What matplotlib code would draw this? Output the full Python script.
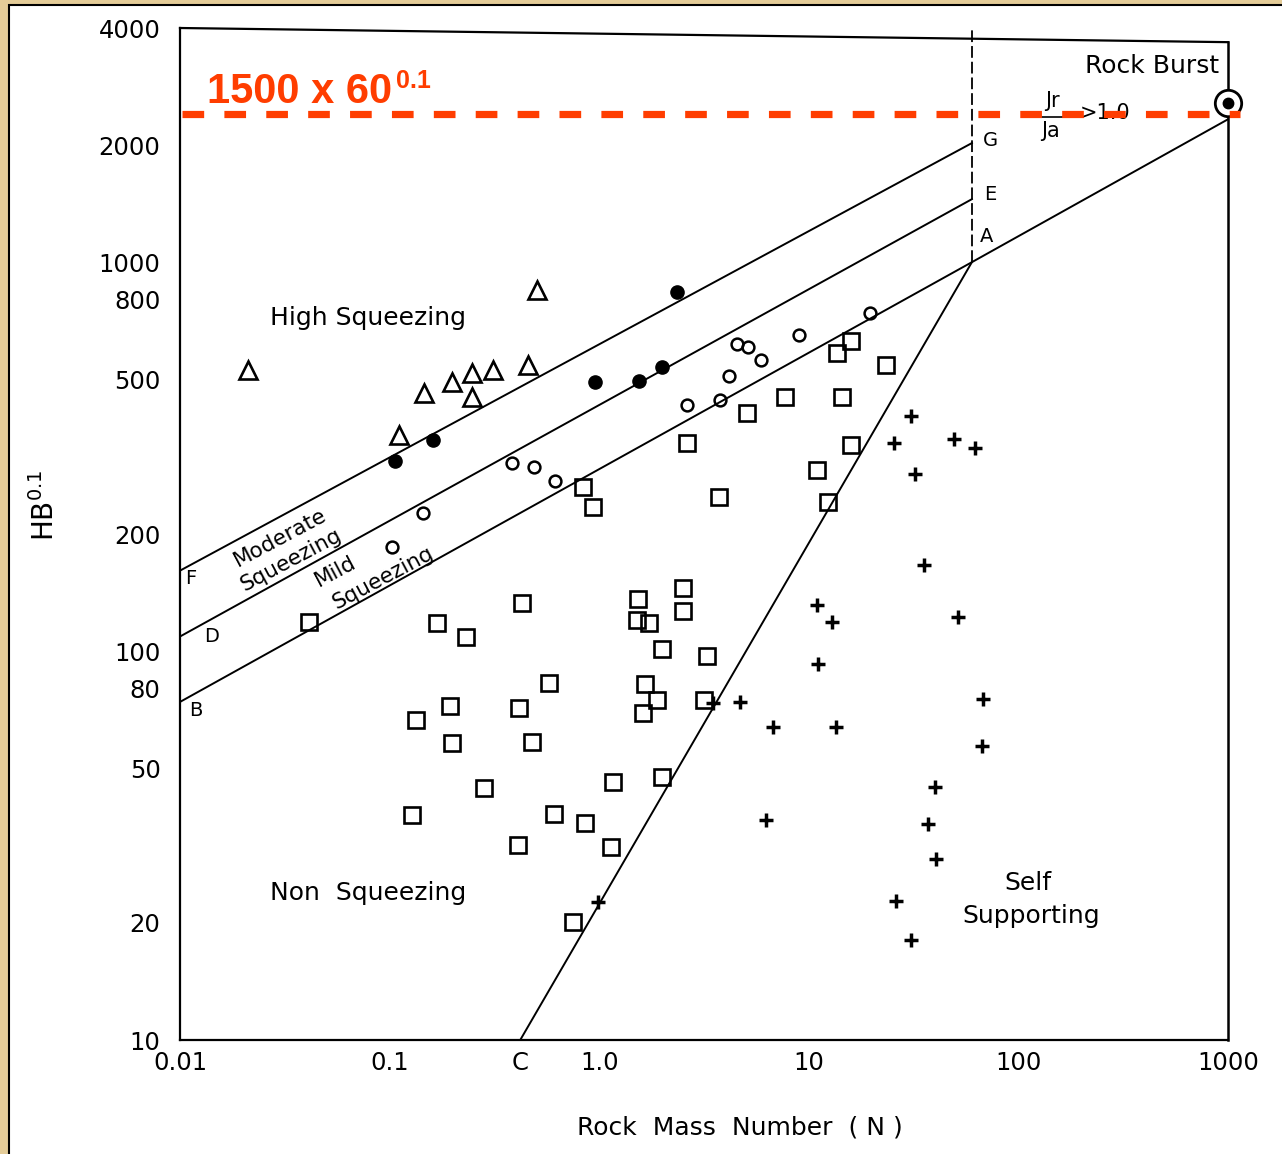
import matplotlib
matplotlib.use("Agg")
import matplotlib.pyplot as plt
from matplotlib.patches import Rectangle
from matplotlib.lines import Line2D
from matplotlib.ticker import NullFormatter

# ---- data ----
tri_x = [0.0211, 0.505, 0.146, 0.199, 0.247, 0.311, 0.247, 0.457, 0.111]
tri_y = [528, 848, 461, 492, 519, 528, 450, 544, 359]

dot_x = [0.106, 0.161, 0.955, 1.55, 2.0, 2.35]
dot_y = [308, 349, 492, 495, 538, 838]

circ_x = [0.144, 0.103, 0.384, 0.489, 0.615, 2.62, 3.77, 4.16, 4.54, 5.13, 5.91, 8.98, 19.6]
circ_y = [226, 185, 305, 297, 274, 429, 442, 510, 616, 605, 561, 650, 740]

sq_x = [0.0412, 0.168, 0.232, 0.429, 0.577, 0.194, 0.414, 0.134, 0.199, 0.478,
        0.282, 0.128, 0.608, 0.410, 0.750, 2.51, 1.53, 2.51, 1.51, 1.73,
        2.0, 3.27, 1.65, 1.89, 1.62, 3.16, 2.0, 1.16, 0.855, 1.14,
        0.838, 0.933, 2.62, 3.73, 5.07, 7.69, 13.6, 15.9, 14.4, 23.3,
        10.9, 15.9, 12.4]
sq_y = [119, 118, 109, 133, 82.8, 72.3, 71.4, 66.5, 58.0, 58.4,
        44.5, 37.9, 38.1, 31.7, 20.1, 145, 136, 127, 120, 118,
        101, 97, 82.3, 74.8, 69.3, 74.8, 47.5, 46.1, 36.1, 31.4,
        264, 235, 343, 249, 410, 450, 584, 627, 450, 544,
        292, 339, 242]

plus_x = [30.7, 25.5, 49.3, 62.1, 32.1, 35.5, 10.9, 12.9, 51.5, 11.1, 4.70, 3.49,
          6.75, 13.5, 67.8, 67.3, 40.0, 6.25, 37.1, 40.5, 26.1, 30.7, 0.986]
plus_y = [402, 343, 351, 333, 285, 166, 131, 119, 122, 92.7, 74.0, 73.6,
          63.8, 63.8, 75.3, 57.0, 44.7, 36.8, 35.9, 29.2, 22.8, 18.1, 22.6]

burst_x, burst_y = 1000, 2566

# boundary lines
line_BA_x, line_BA_y = [0.01, 60, 1000], [74, 1000, 2330]
line_DE_x, line_DE_y = [0.01, 60], [109, 1452]
line_FG_x, line_FG_y = [0.01, 60], [161, 2024]
line_CA_x, line_CA_y = [0.42, 60], [10, 1000]
n_limit = 60
red_level = 2410

ytick_pos = [10, 20, 50, 80, 100, 200, 500, 800, 1000, 2000, 4000]
ytick_lab = ["10", "20", "50", "80", "100", "200", "500", "800", "1000", "2000", "4000"]
ytick_marks = [20, 50, 80, 100, 200, 500, 800, 1000, 2000]
xtick_pos = [0.01, 0.1, 0.42, 1, 10, 100, 1000]
xtick_lab = ["0.01", "0.1", "C", "1.0", "10", "100", "1000"]
xtick_marks = [0.1, 1, 10, 100]

RED = "#FF3D00"

fig = plt.figure(figsize=(12.82, 11.54), dpi=100)
fig.patch.set_facecolor("#E4CC98")
fig.add_artist(Rectangle((9 / 1282, -0.01), 1.0, 1 - 5 / 1154 + 0.01,
                         transform=fig.transFigure, facecolor="white",
                         edgecolor="black", lw=1.5, zorder=0))

ax = fig.add_axes([180 / 1282, 114 / 1154, 1048 / 1282, 1012 / 1154])
ax.patch.set_alpha(0)
ax.set_xscale("log")
ax.set_yscale("log")
ax.set_xlim(0.01, 1000)
ax.set_ylim(10, 4000)

for s in ["top", "right"]:
    ax.spines[s].set_visible(False)
for s in ["left", "bottom"]:
    ax.spines[s].set_linewidth(1.6)
# scanned frame: top edge a bit skewed
ax.add_line(Line2D([0, 1], [1, 0.986], transform=ax.transAxes, color="k", lw=1.6, clip_on=False))
ax.add_line(Line2D([1, 1], [0.986, 0], transform=ax.transAxes, color="k", lw=1.8, clip_on=False))

ax.set_xticks(xtick_pos, xtick_lab)
ax.set_yticks(ytick_pos, ytick_lab)
ax.set_xticks(xtick_marks, minor=True)
ax.set_yticks(ytick_marks, minor=True)
ax.xaxis.set_minor_formatter(NullFormatter())
ax.yaxis.set_minor_formatter(NullFormatter())
ax.tick_params(which="major", length=0, labelsize=17.5)
ax.tick_params(axis="x", which="major", pad=8)
ax.tick_params(axis="y", which="major", pad=14)
ax.tick_params(which="minor", direction="in", length=19, width=1.5)

# boundary lines
ax.plot(line_BA_x, line_BA_y, color="k", lw=1.4, zorder=2)
ax.plot(line_DE_x, line_DE_y, color="k", lw=1.4, zorder=2)
ax.plot(line_FG_x, line_FG_y, color="k", lw=1.4, zorder=2)
ax.plot(line_CA_x, line_CA_y, color="k", lw=1.4, zorder=2)
ax.plot([n_limit, n_limit], [1000, 4000], color="k", lw=1.3, ls=(0, (6.5, 2.2)), zorder=2)

# data points
ax.plot(sq_x, sq_y, "s", ms=11, mfc="none", mec="k", mew=1.9, zorder=3)
ax.plot(circ_x, circ_y, "o", ms=8.5, mfc="none", mec="k", mew=1.8, zorder=3)
ax.plot(dot_x, dot_y, "o", ms=9.5, color="k", zorder=3)
ax.plot(tri_x, tri_y, "^", ms=13, mfc="none", mec="k", mew=1.9, zorder=3)
ax.plot(plus_x, plus_y, "+", ms=10.5, mew=2.5, color="k", zorder=3)
ax.plot(burst_x, burst_y, "o", ms=19, mfc="white", mec="k", mew=2, clip_on=False, zorder=4)
ax.plot(burst_x, burst_y, "o", ms=7.5, color="k", clip_on=False, zorder=5)

# region labels
tk = dict(color="k", fontsize=18)
ax.text(0.0269, 719, "High Squeezing", ha="left", va="center", **tk)
ax.text(0.0269, 23.9, "Non  Squeezing", ha="left", va="center", **tk)
ax.text(111, 25.4, "Self", ha="center", va="center", **tk)
ax.text(115, 20.8, "Supporting", ha="center", va="center", **tk)
ax.text(434, 3190, "Rock Burst", ha="center", va="center", **tk)
rk = dict(color="k", fontsize=15.5, rotation=28, rotation_mode="anchor", ha="center", va="center")
ax.text(0.030, 196, "Moderate", **rk)
ax.text(0.0339, 171, "Squeezing", **rk)
ax.text(0.055, 160, "Mild", **rk)
ax.text(0.093, 154, "Squeezing", **rk)

lk = dict(color="k", fontsize=14, ha="center", va="center")
ax.text(0.0112, 154, "F", **lk)
ax.text(0.0141, 109, "D", **lk)
ax.text(0.0119, 70.2, "B", **lk)
ax.text(73.3, 2061, "G", **lk)
ax.text(73.3, 1489, "E", **lk)
ax.text(70.8, 1167, "A", **lk)
# Jr / Ja > 1.0
ax.text(145, 2594, "Jr", color="k", fontsize=15, ha="center", va="center")
ax.text(141.6, 2173, "Ja", color="k", fontsize=15, ha="center", va="center")
ax.plot([124, 173], [2361, 2361], color="k", lw=1.2, zorder=2)
ax.text(259, 2423, ">1.0", color="k", fontsize=15, ha="center", va="center")

# red reference level
ax.plot([0.0102, 1140], [red_level, red_level], color=RED, lw=5.2,
        ls=(0, (3.0, 2.8)), clip_on=False, zorder=6)
fig.text(207 / 1282, 1 - 103 / 1154, "1500 x 60", color=RED, fontsize=30,
         fontweight="bold", family="Liberation Sans", ha="left", va="baseline")
fig.text(396 / 1282, 1 - 88 / 1154, "0.1", color=RED, fontsize=18,
         fontweight="bold", family="Liberation Sans", ha="left", va="baseline")

# axis titles
fig.text(45 / 1282, 1 - 505 / 1154, r"$\mathrm{HB}^{0.1}$", rotation=90,
         fontsize=20, ha="center", va="center")
fig.text(740 / 1282, 1 - 1127 / 1154, "Rock  Mass  Number  ( N )",
         fontsize=18, ha="center", va="center")

fig.savefig("out.png", dpi=100, facecolor=fig.get_facecolor())
